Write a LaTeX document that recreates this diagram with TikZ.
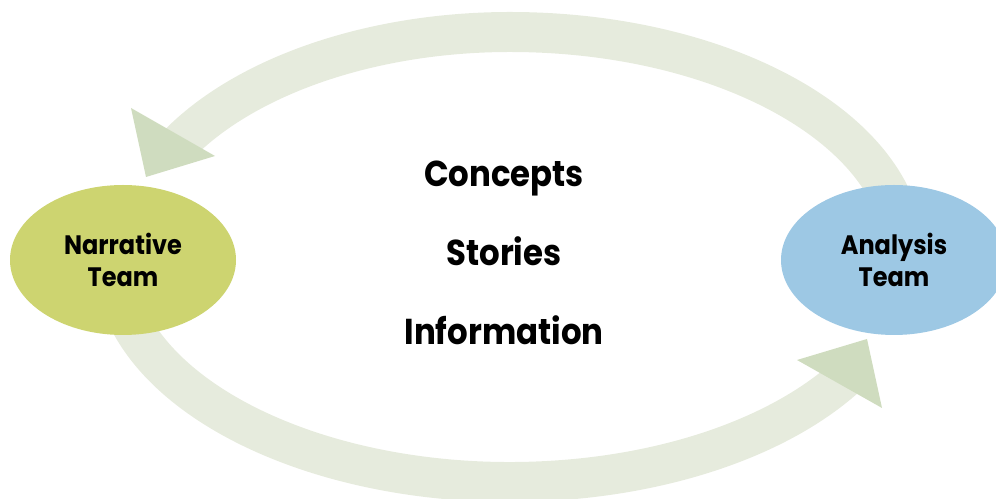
\documentclass[tikz,border=0pt]{standalone}
\usepackage{fontspec}
\setmainfont{Poppins}[FakeStretch=0.9]
\usetikzlibrary{shapes,positioning,calc}
\definecolor{arcgray}{HTML}{E6EBDD}
\definecolor{headgray}{HTML}{CFDCBF}
\definecolor{narrgreen}{HTML}{CDD470}
\definecolor{analblue}{HTML}{9DC8E4}

\begin{document}
\begin{tikzpicture}[x=0.75pt, y=0.75pt,
    team ellipse/.style={ellipse, minimum width=169.5pt, minimum height=112.5pt, inner sep=0pt, align=center, font=\fontsize{20}{24}\selectfont\bfseries},
    flow arc/.style={draw=arcgray, line width=30pt},
    flow head/.style={fill=headgray},
    topic text/.style={anchor=base, font=\fontsize{27}{30}\selectfont\bfseries}]

    \useasboundingbox (0,0) rectangle (996,499);
    \clip (0,0) rectangle (996,499);

    \coordinate (hub) at (510,242);

    % upper arc, analysis back to narrative
    \draw [flow arc] ($(hub)+(5:395 and 225)$) arc[start angle=5, end angle=90, x radius=395, y radius=225]
        arc[start angle=90, end angle=150, x radius=383, y radius=225];
    \coordinate (up a) at (131,391);
    \coordinate (up b) at (215,343);
    \coordinate (up c) at (146,322);
    \fill [flow head] (up a) -- (up b) -- (up c) -- cycle;

    % lower arc, narrative to analysis
    \draw [flow arc] ($(hub)+(188:397 and 225)$) arc[start angle=188, end angle=328, x radius=397, y radius=225];
    \coordinate (low a) at (797,139);
    \coordinate (low b) at (867,160);
    \coordinate (low c) at (882,91);
    \fill [flow head] (low a) -- (low b) -- (low c) -- cycle;

    \node [team ellipse, fill=narrgreen] (narr) at (123,239) {Narrative\\Team};
    \node [team ellipse, fill=analblue] (anal) at (894,239) {Analysis\\Team};

    \node [topic text] (concepts) at (504,312) {Concepts};
    \node [topic text] (stories) at (504,233) {Stories};
    \node [topic text] (info) at (504,154) {Information};

\end{tikzpicture}
\end{document}
